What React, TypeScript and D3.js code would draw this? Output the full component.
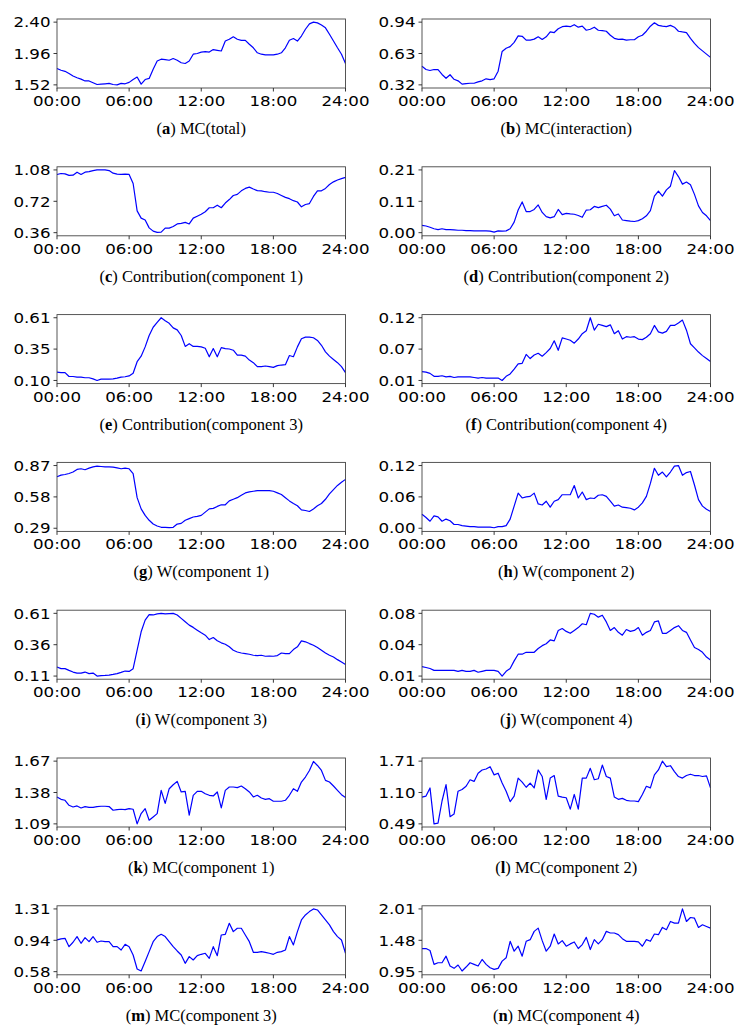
import React from "react";
import * as d3 from "d3";

const xTickValues = [0, 6, 12, 18, 24];
const xTickLabels = ["00:00", "06:00", "12:00", "18:00", "24:00"];

const captionLetters = ["a", "b", "c", "d", "e", "f", "g", "h", "i", "j", "k", "l", "m", "n"];
const captionTexts = [
  "MC(total)", "MC(interaction)",
  "Contribution(component 1)", "Contribution(component 2)",
  "Contribution(component 3)", "Contribution(component 4)",
  "W(component 1)", "W(component 2)",
  "W(component 3)", "W(component 4)",
  "MC(component 1)", "MC(component 2)",
  "MC(component 3)", "MC(component 4)",
];

// y tick extents [min, max]; middle tick is their mean
const yTickExtents = [
  [1.52, 2.40], [0.32, 0.94],
  [0.36, 1.08], [0.004, 0.212],
  [0.098, 0.606], [0.014, 0.120],
  [0.29, 0.87], [0.002, 0.118],
  [0.11, 0.61], [0.011, 0.077],
  [1.09, 1.67], [0.49, 1.71],
  [0.576, 1.306], [0.95, 2.01],
];

// 20-minute samples, 00:00 .. 24:00 (73 values)
const mcTotal = [
  1.75, 1.725, 1.71, 1.68, 1.645, 1.62, 1.60, 1.575, 1.575, 1.55, 1.525, 1.53,
  1.535, 1.54, 1.525, 1.52, 1.54, 1.535, 1.555, 1.595, 1.63, 1.53, 1.595, 1.61,
  1.74, 1.855, 1.88, 1.875, 1.865, 1.89, 1.865, 1.83, 1.82, 1.855, 1.95, 1.96,
  1.98, 1.985, 1.98, 2.015, 2.005, 1.995, 2.135, 2.16, 2.195, 2.16, 2.145, 2.145,
  2.09, 2.04, 1.97, 1.95, 1.94, 1.94, 1.94, 1.95, 1.97, 2.04, 2.145, 2.17,
  2.135, 2.205, 2.30, 2.375, 2.40, 2.39, 2.36, 2.32, 2.23, 2.135, 2.04, 1.95,
  1.82,
];
const mcInteraction = [
  0.504, 0.472, 0.462, 0.472, 0.47, 0.423, 0.385, 0.42, 0.375, 0.36, 0.327, 0.333,
  0.336, 0.336, 0.35, 0.36, 0.38, 0.372, 0.38, 0.455, 0.65, 0.682, 0.698, 0.74,
  0.804, 0.80, 0.762, 0.762, 0.772, 0.795, 0.769, 0.795, 0.843, 0.837, 0.875, 0.895,
  0.90, 0.895, 0.915, 0.89, 0.90, 0.86, 0.87, 0.89, 0.86, 0.856, 0.85, 0.81,
  0.78, 0.77, 0.772, 0.762, 0.766, 0.766, 0.795, 0.81, 0.85, 0.90, 0.934, 0.908,
  0.90, 0.895, 0.908, 0.89, 0.85, 0.843, 0.837, 0.78, 0.73, 0.688, 0.656, 0.624,
  0.592,
];
const contrib1 = [
  1.028, 1.039, 1.035, 1.017, 1.02, 1.054, 1.028, 1.054, 1.061, 1.073, 1.08, 1.08,
  1.08, 1.073, 1.043, 1.032, 1.028, 1.032, 1.028, 0.924, 0.61, 0.527, 0.505, 0.415,
  0.378, 0.364, 0.367, 0.412, 0.412, 0.43, 0.46, 0.467, 0.478, 0.46, 0.527, 0.549,
  0.571, 0.60, 0.646, 0.646, 0.675, 0.646, 0.70, 0.74, 0.787, 0.80, 0.84, 0.868,
  0.883, 0.861, 0.842, 0.84, 0.83, 0.824, 0.824, 0.81, 0.787, 0.765, 0.75, 0.727,
  0.712, 0.657, 0.683, 0.694, 0.776, 0.84, 0.84, 0.868, 0.913, 0.943, 0.965, 0.98,
  0.995,
];
const contrib2 = [
  0.028, 0.026, 0.022, 0.017, 0.014, 0.017, 0.014, 0.014, 0.013, 0.012, 0.012, 0.011,
  0.011, 0.01, 0.01, 0.01, 0.01, 0.009, 0.006, 0.01, 0.009, 0.01, 0.017, 0.039,
  0.079, 0.106, 0.074, 0.074, 0.081, 0.096, 0.071, 0.057, 0.053, 0.057, 0.081, 0.064,
  0.068, 0.066, 0.065, 0.061, 0.055, 0.079, 0.08, 0.091, 0.087, 0.091, 0.095, 0.082,
  0.06, 0.066, 0.046, 0.044, 0.042, 0.041, 0.044, 0.05, 0.06, 0.077, 0.125, 0.142,
  0.125, 0.146, 0.158, 0.21, 0.19, 0.165, 0.172, 0.163, 0.131, 0.093, 0.071, 0.06,
  0.044,
];
const contrib3 = [
  0.165, 0.162, 0.162, 0.13, 0.13, 0.125, 0.125, 0.12, 0.12, 0.111, 0.098, 0.109,
  0.109, 0.109, 0.111, 0.117, 0.125, 0.128, 0.135, 0.157, 0.25, 0.295, 0.37, 0.462,
  0.529, 0.568, 0.606, 0.582, 0.561, 0.524, 0.508, 0.462, 0.374, 0.396, 0.374, 0.374,
  0.37, 0.359, 0.29, 0.356, 0.29, 0.364, 0.356, 0.353, 0.343, 0.303, 0.303, 0.295,
  0.263, 0.242, 0.21, 0.21, 0.215, 0.21, 0.204, 0.218, 0.223, 0.226, 0.30, 0.29,
  0.37, 0.436, 0.449, 0.449, 0.444, 0.422, 0.383, 0.33, 0.295, 0.268, 0.242, 0.21,
  0.162,
];
const contrib4 = [
  0.029, 0.028, 0.026, 0.021, 0.021, 0.022, 0.02, 0.021, 0.019, 0.02, 0.02, 0.02,
  0.02, 0.019, 0.018, 0.019, 0.018, 0.018, 0.018, 0.018, 0.014, 0.021, 0.025, 0.033,
  0.042, 0.043, 0.058, 0.051, 0.057, 0.06, 0.055, 0.061, 0.068, 0.081, 0.065, 0.086,
  0.084, 0.082, 0.077, 0.084, 0.093, 0.098, 0.12, 0.099, 0.109, 0.107, 0.105, 0.108,
  0.093, 0.098, 0.084, 0.088, 0.087, 0.088, 0.084, 0.083, 0.087, 0.093, 0.107, 0.096,
  0.094, 0.097, 0.107, 0.107, 0.111, 0.116, 0.099, 0.076, 0.069, 0.062, 0.056, 0.051,
  0.046,
];
const w1 = [
  0.766, 0.781, 0.787, 0.796, 0.81, 0.834, 0.84, 0.831, 0.846, 0.858, 0.864, 0.861,
  0.858, 0.858, 0.855, 0.849, 0.84, 0.846, 0.84, 0.796, 0.573, 0.469, 0.409, 0.364,
  0.329, 0.311, 0.299, 0.299, 0.296, 0.299, 0.329, 0.335, 0.364, 0.379, 0.394, 0.40,
  0.409, 0.439, 0.469, 0.474, 0.492, 0.507, 0.507, 0.543, 0.558, 0.573, 0.596, 0.617,
  0.626, 0.632, 0.638, 0.638, 0.638, 0.638, 0.632, 0.617, 0.602, 0.573, 0.543, 0.519,
  0.498, 0.46, 0.454, 0.445, 0.469, 0.498, 0.519, 0.558, 0.608, 0.647, 0.686, 0.715,
  0.742,
];
const w2 = [
  0.028, 0.022, 0.015, 0.025, 0.023, 0.015, 0.019, 0.016, 0.009, 0.009, 0.007, 0.006,
  0.005, 0.005, 0.004, 0.004, 0.004, 0.004, 0.003, 0.005, 0.005, 0.007, 0.019, 0.043,
  0.067, 0.058, 0.06, 0.061, 0.067, 0.047, 0.045, 0.052, 0.041, 0.052, 0.055, 0.064,
  0.064, 0.064, 0.081, 0.058, 0.069, 0.055, 0.058, 0.057, 0.063, 0.064, 0.061, 0.052,
  0.043, 0.045, 0.041, 0.04, 0.039, 0.036, 0.041, 0.049, 0.061, 0.085, 0.113, 0.10,
  0.106, 0.097, 0.106, 0.117, 0.118, 0.10, 0.105, 0.107, 0.082, 0.055, 0.043, 0.037,
  0.033,
];
const w3 = [
  0.182, 0.169, 0.169, 0.155, 0.142, 0.134, 0.134, 0.142, 0.129, 0.134, 0.11, 0.113,
  0.115, 0.118, 0.123, 0.129, 0.139, 0.15, 0.147, 0.169, 0.316, 0.463, 0.556, 0.60,
  0.597, 0.606, 0.61, 0.606, 0.608, 0.61, 0.597, 0.57, 0.543, 0.516, 0.498, 0.476,
  0.455, 0.436, 0.401, 0.417, 0.391, 0.375, 0.364, 0.343, 0.316, 0.302, 0.294, 0.289,
  0.284, 0.276, 0.273, 0.276, 0.268, 0.27, 0.268, 0.273, 0.294, 0.289, 0.289, 0.321,
  0.343, 0.391, 0.383, 0.369, 0.356, 0.337, 0.316, 0.294, 0.276, 0.262, 0.241, 0.222,
  0.203,
];
const w4 = [
  0.021, 0.02, 0.019, 0.017, 0.017, 0.017, 0.017, 0.017, 0.017, 0.016, 0.017, 0.016,
  0.016, 0.017, 0.015, 0.016, 0.017, 0.017, 0.017, 0.016, 0.011, 0.016, 0.019, 0.027,
  0.034, 0.034, 0.036, 0.036, 0.036, 0.04, 0.043, 0.045, 0.049, 0.048, 0.059, 0.061,
  0.058, 0.056, 0.059, 0.062, 0.066, 0.065, 0.077, 0.076, 0.073, 0.075, 0.068, 0.059,
  0.062, 0.057, 0.054, 0.06, 0.058, 0.059, 0.062, 0.054, 0.057, 0.059, 0.068, 0.069,
  0.056, 0.056, 0.059, 0.062, 0.064, 0.059, 0.057, 0.049, 0.041, 0.039, 0.036, 0.031,
  0.028,
];
const mc1 = [
  1.339, 1.317, 1.308, 1.262, 1.246, 1.256, 1.237, 1.25, 1.243, 1.243, 1.25, 1.253,
  1.253, 1.25, 1.216, 1.222, 1.225, 1.222, 1.231, 1.225, 1.09, 1.185, 1.231, 1.124,
  1.154, 1.185, 1.40, 1.28, 1.415, 1.452, 1.483, 1.385, 1.391, 1.17, 1.354, 1.391,
  1.391, 1.369, 1.354, 1.348, 1.385, 1.237, 1.40, 1.431, 1.431, 1.425, 1.44, 1.415,
  1.385, 1.339, 1.354, 1.329, 1.317, 1.323, 1.299, 1.299, 1.299, 1.308, 1.354, 1.415,
  1.391, 1.477, 1.523, 1.584, 1.667, 1.63, 1.584, 1.492, 1.477, 1.44, 1.40, 1.36,
  1.333,
];
const mc2 = [
  1.011, 1.03, 1.189, 0.49, 0.503, 0.935, 1.252, 0.63, 0.68, 1.125, 1.157, 1.221,
  1.348, 1.316, 1.475, 1.538, 1.557, 1.602, 1.443, 1.475, 1.284, 1.125, 0.922, 1.03,
  1.38, 1.303, 1.202, 1.284, 1.189, 1.538, 1.411, 0.967, 1.38, 1.43, 1.03, 1.011,
  0.998, 0.776, 1.062, 0.776, 1.38, 1.38, 1.57, 1.348, 1.367, 1.634, 1.411, 1.38,
  1.011, 0.967, 0.986, 0.948, 0.935, 0.935, 0.922, 1.062, 1.221, 1.189, 1.443, 1.538,
  1.71, 1.602, 1.621, 1.507, 1.411, 1.38, 1.43, 1.456, 1.43, 1.43, 1.411, 1.424,
  1.189,
];
const mc3 = [
  0.945, 0.957, 0.964, 0.867, 0.918, 0.984, 0.906, 0.972, 0.925, 0.984, 0.918, 0.933,
  0.925, 0.925, 0.867, 0.867, 0.828, 0.894, 0.867, 0.77, 0.607, 0.584, 0.693, 0.809,
  0.925, 0.984, 1.011, 0.984, 0.925, 0.867, 0.817, 0.77, 0.673, 0.751, 0.712, 0.762,
  0.778, 0.79, 0.731, 0.867, 0.762, 1.003, 1.011, 1.139, 1.042, 1.081, 1.081, 1.003,
  0.925, 0.801, 0.801, 0.809, 0.801, 0.79, 0.778, 0.801, 0.809, 0.828, 0.984, 0.887,
  1.042, 1.178, 1.236, 1.275, 1.306, 1.294, 1.236, 1.178, 1.12, 1.042, 0.984, 0.945,
  0.79,
];
const mc4 = [
  1.341, 1.341, 1.307, 1.073, 1.101, 1.101, 1.212, 1.045, 1.006, 1.062, 0.961, 1.028,
  1.101, 1.073, 1.045, 1.156, 1.073, 1.017, 0.989, 1.006, 1.128, 1.184, 1.463, 1.296,
  1.38, 1.212, 1.463, 1.491, 1.631, 1.686, 1.474, 1.296, 1.38, 1.586, 1.419, 1.474,
  1.38, 1.419, 1.452, 1.341, 1.408, 1.53, 1.324, 1.491, 1.419, 1.491, 1.631, 1.603,
  1.603, 1.575, 1.508, 1.463, 1.463, 1.463, 1.452, 1.38, 1.491, 1.463, 1.586, 1.575,
  1.698, 1.659, 1.798, 1.77, 1.77, 2.01, 1.798, 1.865, 1.854, 1.698, 1.742, 1.714,
  1.686,
];

const seriesList = [
  mcTotal, mcInteraction, contrib1, contrib2, contrib3, contrib4,
  w1, w2, w3, w4, mc1, mc2, mc3, mc4,
];

const colLeft = [57, 422];
const plotW = 288.5;
const plotH = 69;
const firstTop = 19;
const rowPitch = 147.8;
const tickFont = "'DejaVu Sans', sans-serif";
const capFont = "'Liberation Serif', 'Times New Roman', serif";
const fs = 14.5;
const sx = 1.15;

function Panel({ idx }: { idx: number }) {
  const col = idx % 2;
  const row = Math.floor(idx / 2);
  const left = colLeft[col];
  const top = firstTop + row * rowPitch;
  const data = seriesList[idx];
  const [tmin, tmax] = yTickExtents[idx];
  const pad = (tmax - tmin) * 0.05;
  const x = d3.scaleLinear().domain([0, 24]).range([left, left + plotW]);
  const y = d3.scaleLinear().domain([tmin - pad, tmax + pad]).range([top + plotH, top]);
  const n = data.length;
  const line = d3
    .line<number>()
    .x((_, i) => x((i * 24) / (n - 1)))
    .y((v) => y(v));
  const yTicks = [tmin, (tmin + tmax) / 2, tmax];
  const bottom = top + plotH;
  return (
    <g>
      <path d={line(data) || ""} fill="none" stroke="#0000ff" strokeWidth={1.2} strokeLinejoin="round" />
      <rect x={left} y={top} width={plotW} height={plotH} fill="none" stroke="#444" strokeWidth={0.9} />
      {yTicks.map((t, i) => (
        <g key={"y" + i}>
          <line x1={left - 3.5} x2={left} y1={y(t)} y2={y(t)} stroke="#222" strokeWidth={0.9} />
          <text
            transform={`translate(${left - 6.5},${y(t)}) scale(${sx},1)`}
            dy="0.36em"
            textAnchor="end"
            fontFamily={tickFont}
            fontSize={fs}
            fill="#000"
          >
            {t.toFixed(2)}
          </text>
        </g>
      ))}
      {xTickValues.map((t, i) => (
        <g key={"x" + i}>
          <line x1={x(t)} x2={x(t)} y1={bottom} y2={bottom + 3.5} stroke="#222" strokeWidth={0.9} />
          <text
            transform={`translate(${x(t)},${bottom + 18}) scale(${sx},1)`}
            textAnchor="middle"
            fontFamily={tickFont}
            fontSize={fs}
            fill="#000"
          >
            {xTickLabels[i]}
          </text>
        </g>
      ))}
      <text
        x={left + plotW / 2}
        y={top + 115}
        textAnchor="middle"
        fontFamily={capFont}
        fontSize={16.5}
        fill="#000"
      >
        (<tspan fontWeight="bold">{captionLetters[idx]}</tspan>) {captionTexts[idx]}
      </text>
    </g>
  );
}

export default function App() {
  return (
    <svg
      width={742}
      height={1034}
      style={{ position: "absolute", left: 0, top: 0, background: "#fff" }}
    >
      <rect x={0} y={0} width={742} height={1034} fill="#fff" />
      {seriesList.map((_, i) => (
        <Panel key={i} idx={i} />
      ))}
    </svg>
  );
}
